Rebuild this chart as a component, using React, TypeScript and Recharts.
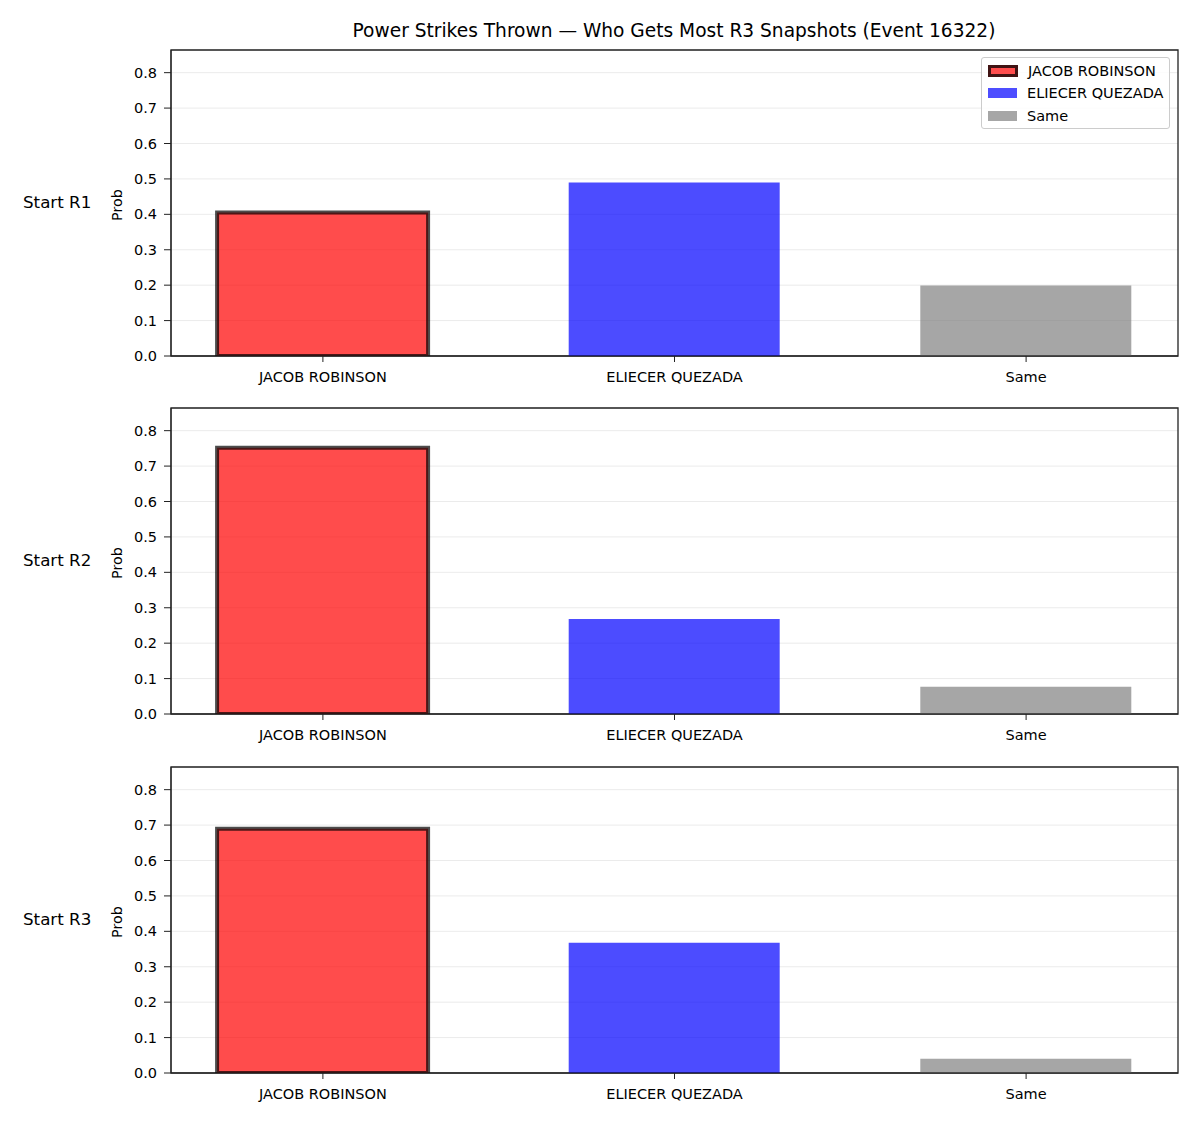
import React from "react"
import { Bar, BarChart, CartesianGrid, Cell, ReferenceArea, XAxis, YAxis } from "recharts"

const categories = ["JACOB ROBINSON", "ELIECER QUEZADA", "Same"]
const rowLabels = ["Start R1", "Start R2", "Start R3"]
const r1Values = [0.405, 0.49, 0.199]
const r2Values = [0.752, 0.268, 0.077]
const r3Values = [0.69, 0.368, 0.04]
const yTicks = [0, 0.1, 0.2, 0.3, 0.4, 0.5, 0.6, 0.7, 0.8]
const xTicks = [0, 1, 2]

const colors = ["#ff0000", "#0000ff", "#808080"]
const legendColors = ["#ff4d4d", "#4d4dff", "#a6a6a6"]
const FONT = "'DejaVu Sans', sans-serif"
const AXIS = "#222222"
const TICK_FS = 14.5

const chartTops = [40, 398, 757]
const X_DOMAIN: [number, number] = [-0.432, 2.432]
const Y_MAX = 0.864

function Panel({ values, label, top, legend }: { values: number[]; label: string; top: number; legend?: boolean }) {
  const data = categories.map((name, i) => ({ x: i, name, value: values[i] }))
  return (
    <div style={{ position: "absolute", left: 0, top, width: 1200, height: 356 }}>
      <BarChart width={1200} height={356} data={data} margin={{ top: 10, right: 22, bottom: 0, left: 0 }}>
        <CartesianGrid vertical={false} stroke="#e6e6e6" strokeWidth={0.8} />
        <XAxis
          type="number"
          dataKey="x"
          domain={X_DOMAIN}
          ticks={xTicks}
          interval={0}
          allowDataOverflow
          tickFormatter={(v) => categories[v]}
          height={40}
          tickSize={6}
          tickMargin={10}
          stroke={AXIS}
          tick={{ fill: "#000", fontSize: TICK_FS, fontFamily: FONT }}
        />
        <YAxis
          domain={[0, Y_MAX]}
          ticks={yTicks}
          allowDataOverflow
          width={171}
          tickSize={7}
          tickMargin={7}
          stroke={AXIS}
          tickFormatter={(v) => v.toFixed(1)}
          tick={{ fill: "#000", fontSize: TICK_FS, fontFamily: FONT }}
        />
        <Bar dataKey="value" barSize={211} isAnimationActive={false}>
          {data.map((d, i) => (
            <Cell
              key={d.name}
              fill={colors[i]}
              fillOpacity={0.7}
              stroke={i === 0 ? "#000" : "none"}
              strokeOpacity={0.7}
              strokeWidth={i === 0 ? 4 : 0}
            />
          ))}
        </Bar>
        <ReferenceArea x1={X_DOMAIN[0]} x2={X_DOMAIN[1]} y1={0} y2={Y_MAX} fill="none" stroke={AXIS} strokeWidth={1.3} ifOverflow="visible" />
      </BarChart>
      <div style={{ position: "absolute", left: 23, top: 10 + 153 - 11, fontFamily: FONT, fontSize: 16.7, color: "#000", whiteSpace: "nowrap" }}>
        {label}
      </div>
      <div
        style={{
          position: "absolute",
          left: 117,
          top: 10 + 155,
          fontFamily: FONT,
          fontSize: 14.3,
          color: "#000",
          transform: "translate(-50%, -50%) rotate(-90deg)",
          whiteSpace: "nowrap",
        }}
      >
        Prob
      </div>
      {legend && (
        <div
          style={{
            position: "absolute",
            left: 981,
            top: 17,
            width: 189,
            height: 72,
            border: "1px solid #cccccc",
            borderRadius: 3,
            background: "rgba(255,255,255,0.8)",
            fontFamily: FONT,
            fontSize: TICK_FS,
            boxSizing: "border-box",
          }}
        >
          {categories.map((c, i) => (
            <div key={c} style={{ position: "absolute", left: 6, top: 4 + i * 22.5, height: 17, display: "flex", alignItems: "center" }}>
              <div
                style={{
                  width: i === 0 ? 24 : 29,
                  height: i === 0 ? 6 : 10,
                  backgroundColor: legendColors[i],
                  border: i === 0 ? "3px solid rgba(0,0,0,0.75)" : "none",
                  marginRight: 10,
                }}
              />
              <span style={{ color: "#000", whiteSpace: "nowrap" }}>{c}</span>
            </div>
          ))}
        </div>
      )}
    </div>
  )
}

export default function App() {
  return (
    <div style={{ position: "absolute", left: 0, top: 0, width: 1200, height: 1125, background: "#fff" }}>
      <div
        style={{
          position: "absolute",
          left: 674,
          top: 30,
          transform: "translate(-50%, -50%)",
          fontFamily: FONT,
          fontSize: 18.6,
          color: "#000",
          whiteSpace: "nowrap",
        }}
      >
        Power Strikes Thrown — Who Gets Most R3 Snapshots (Event 16322)
      </div>
      <Panel values={r1Values} label={rowLabels[0]} top={chartTops[0]} legend />
      <Panel values={r2Values} label={rowLabels[1]} top={chartTops[1]} />
      <Panel values={r3Values} label={rowLabels[2]} top={chartTops[2]} />
    </div>
  )
}
